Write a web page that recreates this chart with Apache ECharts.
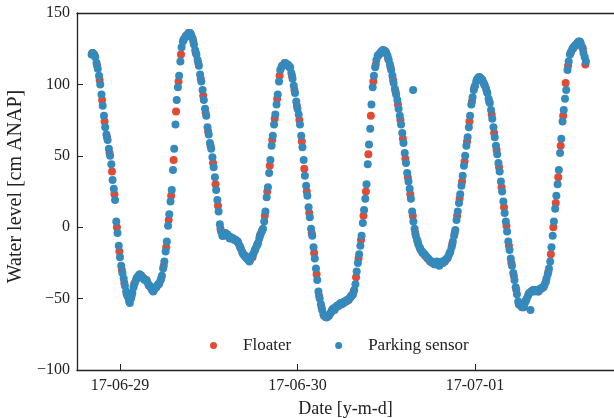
<!DOCTYPE html>
<html>
<head>
<meta charset="utf-8">
<script src="https://cdn.jsdelivr.net/npm/echarts@6/dist/echarts.min.js"></script>
<style>
html,body{margin:0;padding:0;background:#fff;}
#chart{width:614px;height:418px;}
</style>
</head>
<body>
<div id="chart"></div>
<script>
// Time is measured in hours relative to 2017-06-29 00:00
const tickHours = [0, 24, 48];
const tickLabels = ['17-06-29', '17-06-30', '17-07-01'];
const yTicks = [-100, -50, 0, 50, 100, 150];

// Parking sensor: 10-minute readings starting 2017-06-28 20:10
const parkingStartHour = -23 / 6;
const parkingStepMin = 10;
const parkingValues = [
  121, 122, 121, 119, 115,                 // 20:10-20:50
  111, 106, 100, 93, 85, 78,               // 21
  70, 65, 61, 55, 50, 44,                  // 22
  33, 27, 19, 4, -4, -13,                  // 23
  -21, -27, -32, -36, -41, -45,            // 06-29 00
  -48, -50, -53, -50, -46, -42,            // 01
  -39, -37, -35, -34, -33, -34,            // 02
  -35, -36, -37, -37, -38, -40,            // 03
  -41, -42, -44, -45, -43, -42,            // 04
  -41, -40, -39, -37, -34, -29,            // 05
  -24, -17, -10, 1, 9, 18,                 // 06
  26, 40, 55, 72, 89, 98,                  // 07
  106, 116, 126, 130, 132, 133,            // 08
  134, 135, 136, 136, 134, 132,            // 09
  128, 124, 121, 117, 113, 107,            // 10
  102, 96, 89, 83, 78, 70,                 // 11
  65, 59, 55, 49, 42, 35,                  // 12
  26, 19, 11, 2, -3, -6,                   // 13
  -6, -4, -5, -5, -6, -8,                  // 14
  -7, -8, -8, -9, -9, -10,                 // 15
  -11, -13, -15, -17, -19, -20,            // 16
  -21, -22, -23, -24, -22, -20,            // 17
  -19, -17, -15, -13, -11, -8,             // 18
  -5, -3, -1, 4, 11, 21,                   // 19
  28, 38, 47, 57, 64, 72,                  // 20
  79, 86, 93, 102, 110, 112,               // 21
  113, 114, 115, 114, 114, 113,            // 22
  112, 108, 104, 99, 94, 88,               // 23
  83, 79, 72, 64, 56, 47,                  // 06-30 00
  36, 29, 22, 14, 7, -1,                   // 01
  -6, -14, -22, -29, -37, -45,             // 02
  -50, -54, -58, -61, -62, -63,            // 03
  -63, -62, -61, -60, -58, -57,            // 04
  -58, -56, -55, -55, -54, -53,            // 05
  -54, -53, -52, -52, -51, -51,            // 06
  -50, -49, -48, -47, -44, -40,            // 07
  -31, -25, -19, -13, -6, 3,               // 08
  12, 20, 30, 44, 58, 69,                  // 09
  86, 98, 106, 112, 117, 120,              // 10
  121, 122, 123, 124, 124, 123,            // 11
  122, 120, 117, 114, 110, 106,            // 12
  101, 97, 93, 89, 83, 78,                 // 13
  72, 66, 59, 52, 45, 38,                  // 14
  32, 27, 20, 11, 4, -1,                   // 15
  -6, -9, -12, -14, -16, -17,              // 16
  -18, -19, -20, -21, -22, -23,            // 17
  -24, -24, -25, -26, -25, -24,            // 18
  -26, -27, -25, -24, -25, -24,            // 19
  -23, -22, -21, -19, -17, -14,            // 20
  -10, -6, -2, 5, 11, 17,                  // 21
  23, 29, 36, 43, 50, 57,                  // 22
  63, 70, 78, 86, 91, 96,                  // 23
  99, 102, 104, 105, 105, 104,             // 07-01 00
  103, 101, 99, 97, 94, 90,                // 01
  87, 82, 76, 70, 63, 57,                  // 02
  51, 45, 39, 32, 25, 18,                  // 03
  10, 4, -3, -10, -16, -22,                // 04
  -27, -32, -37, -42, -47, -52,            // 05
  -54, -55, -56, -56, -54, -52,            // 06
  -50, -48, -46, -58, -45, -44,            // 07
  -45, -44, -44, -45, -44, -43,            // 08
  -43, -42, -41, -39, -36, -33,            // 09
  -29, -24, -14, -6, 4, 13,                // 10
  22, 30, 40, 52, 62, 74,                  // 11
  82, 90, 96, 110, 116, 121,               // 12
  123, 125, 126, 127, 128, 129,            // 13
  130, 130, 128, 126, 122, 119,            // 14
  116                                      // 15:00
];
// Isolated parking-sensor reading (hour, value)
const parkingExtraHours = [39.63];
const parkingExtraValues = [96];

// Floater: 20-minute readings starting 2017-06-28 20:15
const floaterStartHour = -3.75;
const floaterStepMin = 20;
const floaterValues = [
  122, 120, 113,    // 20
  103, 89, 74,      // 21
  63, 52, 39,       // 22
  23, 0, -17,       // 23
  -30, -39, -47,    // 06-29 00
  -52, -48, -40,    // 01
  -36, -34, -34,    // 02
  -36, -37, -41,    // 03
  -43, -44, -42,    // 04
  -40, -36, -27,    // 05
  -14, 5, 22,       // 06
  47, 81, 102,      // 07
  121, 131, 134,    // 08
  136, 135, 130,    // 09
  122, 115, 104,    // 10
  92, 80, 67,       // 11
  57, 45, 30,       // 12
  15, -1, -6,       // 13
  -4, -6, -7,       // 14
  -8, -9, -10,      // 15
  -14, -18, -20,    // 16
  -22, -23, -21,    // 17
  -16, -12, -6,     // 18
  -2, 8, 25,        // 19
  43, 61, 76,       // 20
  90, 106, 113,     // 21
  115, 114, 112,    // 22
  106, 96, 85,      // 23
  75, 60, 41,       // 06-30 00
  25, 10, -4,       // 01
  -18, -33, -48,    // 02
  -56, -62, -63,    // 03
  -62, -59, -57,    // 04
  -56, -55, -54,    // 05
  -53, -52, -51,    // 06
  -48, -45, -35,    // 07
  -22, -9, 8,       // 08
  25, 51, 78,       // 09
  102, 114, 120,    // 10
  122, 124, 123,    // 11
  118, 112, 103,    // 12
  95, 86, 75,       // 13
  62, 48, 35,       // 14
  23, 8, -4,        // 15
  -10, -15, -18,    // 16
  -20, -22, -24,    // 17
  -25, -26, -25,    // 18
  -26, -25, -24,    // 19
  -22, -18, -12,    // 20
  -4, 8, 20,        // 21
  32, 46, 60,       // 22
  74, 88, 98,       // 23
  103, 105, 103,    // 07-01 00
  100, 95, 88,      // 01
  79, 66, 54,       // 02
  42, 28, 14,       // 03
  1, -13, -25,      // 04
  -34, -44, -54,    // 05
  -55, -56, -51,    // 06
  -47, -45, -44,    // 07
  -44, -45, -43,    // 08
  -42, -38, -31,    // 09
  -19, 0, 17,       // 10
  35, 57, 78,       // 11
  101, 113, 122,    // 12
  125, 127, 129,    // 13
  129, 125, 114     // 14
];

const xMin = -5.81;
const xMax = 66.79;

function toPairs(start, stepMin, vals) {
  return vals.map((v, i) => [start + i * stepMin / 60, v]);
}
const parkingData = toPairs(parkingStartHour, parkingStepMin, parkingValues)
  .concat(parkingExtraHours.map((h, i) => [h, parkingExtraValues[i]]));
const floaterData = toPairs(floaterStartHour, floaterStepMin, floaterValues);

const FONT = '"Liberation Serif", "DejaVu Serif", serif';
const AXIS_COLOR = '#222';

const chart = echarts.init(document.getElementById('chart'), null, {renderer: 'canvas'});
chart.setOption({
  animation: false,
  backgroundColor: '#fff',
  grid: {left: 77, right: 0, top: 13, bottom: 48, containLabel: false, outerBoundsMode: 'none'},
  legend: {
    data: ['Floater', 'Parking sensor'],
    left: 210, top: 337,
    padding: 0,
    icon: 'circle',
    itemWidth: 7, itemHeight: 7,
    itemGap: 44,
    textStyle: {fontFamily: FONT, fontSize: 17, color: '#222', padding: [0, 0, 0, 21]}
  },
  xAxis: [{
    type: 'value',
    min: xMin, max: xMax,
    name: 'Date [y-m-d]',
    nameLocation: 'middle',
    nameGap: 30,
    nameTextStyle: {fontFamily: FONT, fontSize: 18, color: '#222'},
    axisLine: {show: true, onZero: false, lineStyle: {color: AXIS_COLOR, width: 1.3}},
    axisTick: {show: true, inside: true, length: 6, customValues: tickHours, lineStyle: {color: AXIS_COLOR, width: 1}},
    axisLabel: {
      customValues: tickHours,
      fontFamily: FONT, fontSize: 16, color: '#222', margin: 8,
      formatter: v => tickLabels[tickHours.indexOf(v)] || ''
    },
    splitLine: {show: false}
  }, {
    type: 'value', position: 'top',
    min: xMin, max: xMax,
    axisLine: {show: true, onZero: false, lineStyle: {color: AXIS_COLOR, width: 1.3}},
    axisTick: {show: false}, axisLabel: {show: false}, splitLine: {show: false}
  }],
  yAxis: {
    type: 'value',
    min: -100, max: 150, interval: 50,
    name: 'Water level [cm ANAP]',
    nameLocation: 'middle',
    nameGap: 44,
    nameTextStyle: {fontFamily: FONT, fontSize: 20, color: '#222', padding: [0, 0, 0, 10]},
    axisLine: {show: true, onZero: false, lineStyle: {color: AXIS_COLOR, width: 1.3}},
    axisTick: {show: true, inside: true, length: 6, lineStyle: {color: AXIS_COLOR, width: 1}},
    axisLabel: {
      fontFamily: FONT, fontSize: 16, color: '#222', margin: 7,
      formatter: v => (yTicks.indexOf(v) >= 0 ? String(v).replace('-', '\u2212') : '')
    },
    splitLine: {show: false}
  },
  series: [{
    name: 'Floater',
    type: 'scatter',
    data: floaterData,
    symbolSize: 8,
    itemStyle: {color: '#E24A33', opacity: 1},
    z: 2
  }, {
    name: 'Parking sensor',
    type: 'scatter',
    data: parkingData,
    symbolSize: 8,
    itemStyle: {color: '#348ABD', opacity: 1},
    z: 3
  }]
});
</script>
</body>
</html>
